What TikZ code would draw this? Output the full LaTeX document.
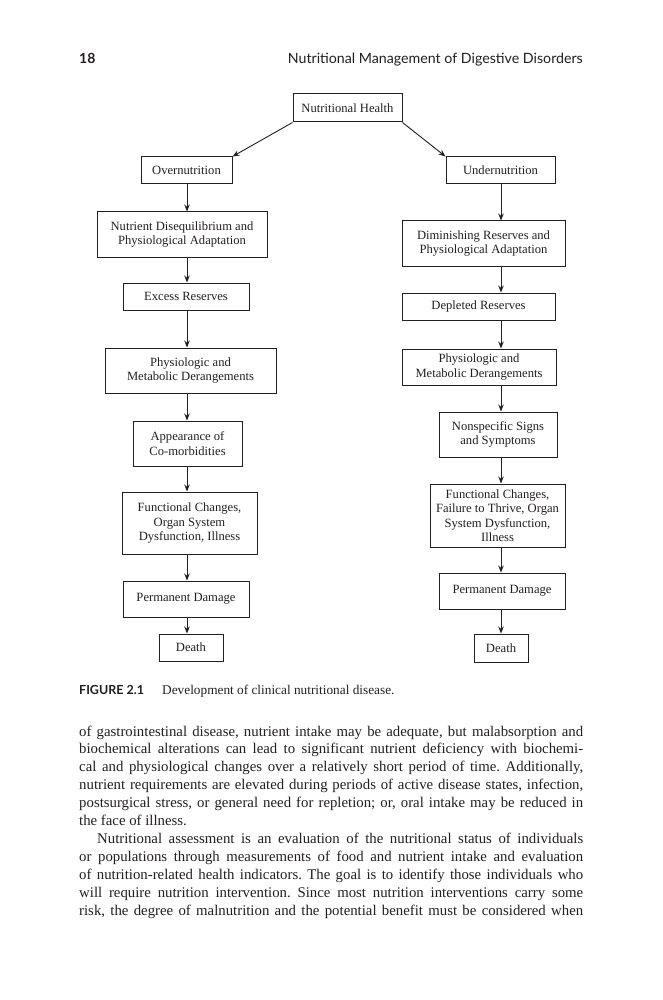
\documentclass[tikz,border=0pt]{standalone}
\usepackage{fontspec}
\setmainfont{Liberation Serif}
\newfontfamily\hdfont{Lato}
\usetikzlibrary{arrows.meta}
\definecolor{ink}{HTML}{231F20}
\newcommand{\boxfont}{\fontsize{12.6}{14.5}\selectfont}
\newcommand{\bodyfont}{\fontsize{14.8}{17.9}\selectfont}
\tikzset{
  box/.style={draw=ink, line width=1pt, align=center, inner sep=0pt, text=ink, font=\boxfont},
  arr/.style={draw=ink, line width=0.9pt, -{Stealth[length=7pt,width=5.5pt]}},
  bodyline/.style={anchor=base west, inner sep=0pt, text=ink, font=\bodyfont}
}
\frenchspacing
\begin{document}
\frenchspacing
\begin{tikzpicture}[x=1pt,y=-1pt]
\useasboundingbox (0,0) rectangle (662,1000);
\fill[white] (0,0) rectangle (662,1000);
% header
\node[anchor=base west, inner sep=0pt, text=ink, font=\hdfont\bfseries\fontsize{14}{16}\selectfont] (pg) at (79,64) {18};
\node[anchor=base east, inner sep=0pt, text=ink, font=\hdfont\fontsize{14.2}{16}\selectfont] (rh) at (583,64) {Nutritional Management of Digestive Disorders};
% guide coordinates for the two columns
\coordinate (xL) at (187,0);
\coordinate (xR) at (501,0);
% boxes
\node[box, minimum width=109pt, minimum height=28pt] (health) at (347.5,108) {Nutritional Health};
\node[box, minimum width=91pt, minimum height=27pt] (over) at (186.5,170.5) {Overnutrition};
\node[box, minimum width=170pt, minimum height=45pt] (diseq) at (182,234.5) {Nutrient Disequilibrium and\\Physiological Adaptation};
\node[box, minimum width=126pt, minimum height=27pt] (excess) at (186,296.5) {Excess Reserves};
\node[box, minimum width=171pt, minimum height=45pt] (physL) at (190.5,370.5) {Physiologic and\\Metabolic Derangements};
\node[box, minimum width=109pt, minimum height=45pt] (appear) at (187.5,443.5) {Appearance of\\Co-morbidities};
\node[box, minimum width=135pt, minimum height=62pt] (funcL) at (189.5,523) {Functional Changes,\\Organ System\\Dysfunction, Illness};
\node[box, minimum width=126pt, minimum height=36pt] (permL) at (186,599) {Permanent Damage};
\node[box, minimum width=64pt, minimum height=27pt] (deathL) at (191,647.5) {Death};
\node[box, minimum width=109pt, minimum height=27pt] (under) at (500.5,170.5) {Undernutrition};
\node[box, minimum width=163pt, minimum height=45pt] (dimin) at (483.5,243.5) {Diminishing Reserves and\\Physiological Adaptation};
\node[box, minimum width=153pt, minimum height=27pt] (depl) at (478.5,306.5) {Depleted Reserves};
\node[box, minimum width=154pt, minimum height=36pt] (physR) at (479,367) {Physiologic and\\Metabolic Derangements};
\node[box, minimum width=118pt, minimum height=45pt] (nonspec) at (498,434.5) {Nonspecific Signs\\and Symptoms};
\node[box, minimum width=135pt, minimum height=63pt] (funcR) at (497.5,515.5) {Functional Changes,\\Failure to Thrive, Organ\\System Dysfunction,\\Illness};
\node[box, minimum width=126pt, minimum height=36pt] (permR) at (502,591) {Permanent Damage};
\node[box, minimum width=54pt, minimum height=28pt] (deathR) at (501,648) {Death};
% connectors
\draw[arr] (health.south west) -- (over.north east);
\draw[arr] (health.south east) -- (under.north west);
\foreach \a/\b in {over/diseq, diseq/excess, excess/physL, physL/appear, appear/funcL, funcL/permL, permL/deathL}
  \draw[arr] (\a.south -| xL) -- (\b.north -| xL);
\foreach \a/\b in {under/dimin, dimin/depl, depl/physR, physR/nonspec, nonspec/funcR, funcR/permR, permR/deathR}
  \draw[arr] (\a.south -| xR) -- (\b.north -| xR);
% caption
\node[anchor=base west, inner sep=0pt, text=ink, font=\hdfont\bfseries\fontsize{12.5}{14}\selectfont] (figlab) at (79,694) {FIGURE 2.1};
\node[anchor=base west, inner sep=0pt, text=ink, font=\fontsize{13.3}{15}\selectfont] (figcap) at (162,694) {Development of clinical nutritional disease.};
% body text
\node[bodyline] (t1) at (79,736) {\makebox[504pt][s]{of gastrointestinal disease, nutrient intake may be adequate, but malabsorption and}};
\node[bodyline] (t2) at (79,753.9) {\makebox[504pt][s]{biochemical alterations can lead to significant nutrient deficiency with biochemi-}};
\node[bodyline] (t3) at (79,771.8) {\makebox[504pt][s]{cal and physiological changes over a relatively short period of time. Additionally,}};
\node[bodyline] (t4) at (79,789.7) {\makebox[504pt][s]{nutrient requirements are elevated during periods of active disease states, infection,}};
\node[bodyline] (t5) at (79,807.6) {\makebox[504pt][s]{postsurgical stress, or general need for repletion; or, oral intake may be reduced in}};
\node[bodyline] (t6) at (79,825.5) {the face of illness.};
\node[bodyline] (t7) at (97,843.4) {\makebox[486pt][s]{Nutritional assessment is an evaluation of the nutritional status of individuals}};
\node[bodyline] (t8) at (79,861.3) {\makebox[504pt][s]{or populations through measurements of food and nutrient intake and evaluation}};
\node[bodyline] (t9) at (79,879.2) {\makebox[504pt][s]{of nutrition-related health indicators. The goal is to identify those individuals who}};
\node[bodyline] (t10) at (79,897.1) {\makebox[504pt][s]{will require nutrition intervention. Since most nutrition interventions carry some}};
\node[bodyline] (t11) at (79,915) {\makebox[504pt][s]{risk, the degree of malnutrition and the potential benefit must be considered when}};
\end{tikzpicture}
\end{document}
